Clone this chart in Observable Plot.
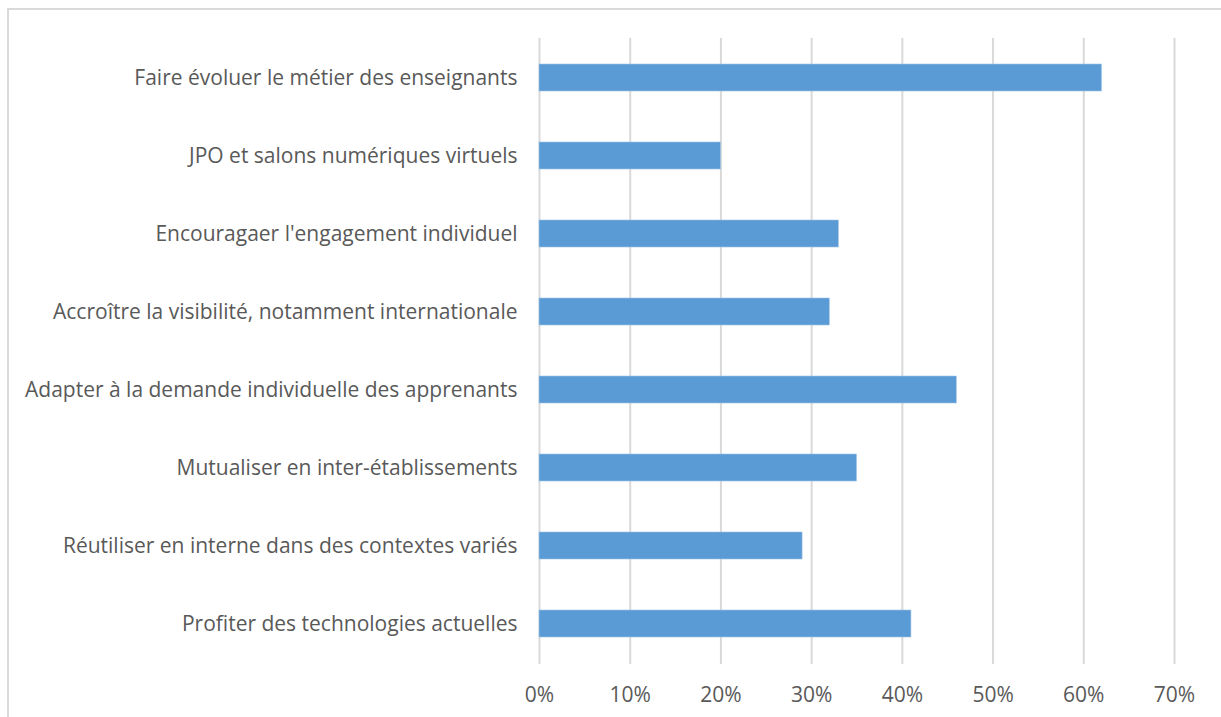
<!DOCTYPE html>
<html>
<head>
<meta charset="utf-8">
<script src="https://cdn.jsdelivr.net/npm/d3@7"></script>
<script src="https://cdn.jsdelivr.net/npm/@observablehq/plot@0.6"></script>
<style>
  html, body { margin: 0; padding: 0; background: #fff; overflow: hidden; width: 1221px; height: 717px; }
  #frame { position: absolute; left: 7px; top: 8px; width: 1240px; height: 740px; border: 2px solid #D9D9D9; box-sizing: border-box; }
  #chart { position: absolute; left: 0; top: 0; }
</style>
</head>
<body>
<div id="frame"></div>
<div id="chart"></div>
<script>
const categories = [
  "Faire évoluer le métier des enseignants",
  "JPO et salons numériques virtuels",
  "Encouragaer l'engagement individuel",
  "Accroître la visibilité, notamment internationale",
  "Adapter à la demande individuelle des apprenants",
  "Mutualiser en inter-établissements",
  "Réutiliser en interne dans des contextes variés",
  "Profiter des technologies actuelles"
];
const values = [0.62, 0.20, 0.33, 0.32, 0.46, 0.35, 0.29, 0.41];
const xTicks = [0, 0.1, 0.2, 0.3, 0.4, 0.5, 0.6, 0.7];

const data = categories.map((c, i) => ({category: c, value: values[i]}));

const chart = Plot.plot({
  width: 1221,
  height: 717,
  marginTop: 38,
  marginBottom: 53,
  marginLeft: 539,
  marginRight: 47,
  style: {fontFamily: "'Open Sans', sans-serif", fontSize: "21px", color: "#595959", background: "transparent"},
  x: {domain: [0, 0.7], ticks: xTicks, tickFormat: d => Math.round(d * 100) + "%", label: null},
  y: {domain: categories, paddingInner: 0.65, paddingOuter: 0.325, label: null},
  marks: [
    Plot.ruleX(xTicks, {stroke: "#D9D9D9", strokeWidth: 2}),
    Plot.barX(data, {x: "value", y: "category", fill: "#5B9BD5", stroke: "#9DC3E6", strokeWidth: 0.6}),
    Plot.axisX({ticks: xTicks, tickSize: 0, tickPadding: 23, tickFormat: d => Math.round(d * 100) + "%", label: null, fill: "#595959"}),
    Plot.axisY({tickSize: 0, tickPadding: 22, label: null, fill: "#595959"})
  ]
});
document.getElementById("chart").appendChild(chart);
</script>
</body>
</html>
